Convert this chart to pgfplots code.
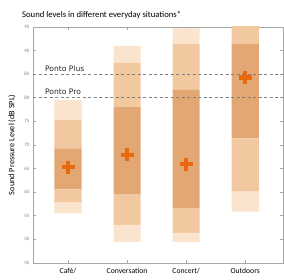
\documentclass[border=0pt]{standalone}
\usepackage{pgfplots}
\pgfplotsset{compat=1.18}
\usepackage{pgfplotstable}
\usepackage{fontspec}
\setmainfont{Carlito}
\newfontfamily\dejavu{DejaVu Sans}
\definecolor{lightb}{HTML}{FBE4CE}
\definecolor{medb}{HTML}{F2C8A0}
\definecolor{darkb}{HTML}{E3A773}
\definecolor{crossc}{HTML}{E8690E}
\definecolor{axg}{HTML}{A6A6A6}
\definecolor{txtg}{HTML}{7F7F7F}
\pgfplotstableread{
x base l1 m1 d m2 l2
0 55.5 2.3 2.8 8.7 6.1 4.1
1 49.5 3.6 6.5 18.4 9.4 3.6
2 49.5 1.9 5.2 25.1 9.7 3.3
3 55.9 4.2 11.3 20.0 4.1 1.5
}\bands
\pgfplotstableread{
x mean
0 65.3
1 67.9
2 65.9
3 84.3
}\means
\begin{document}
\begin{tikzpicture}
\useasboundingbox (0,0) rectangle (284bp,280bp);
\begin{axis}[
  at={(33bp,17bp)}, anchor=south west,
  scale only axis, width=250bp, height=236bp,
  xmin=-0.593, xmax=3.64, ymin=45, ymax=95,
  ybar stacked, bar width=0.46,
  xtick=data, xticklabels={Café/,Conversation,Concert/,\raisebox{-3bp}{Outdoors}},
  ytick={45,50,...,95},
  axis line style={axg, line width=0.8bp},
  tick style={axg, line width=0.6bp},
  major tick length=3bp,
  tick align=inside,
  /pgf/number format/assume math mode=true,
  yticklabel style={font=\fontsize{5}{6}\selectfont, text=txtg},
  xticklabel style={font=\fontsize{7.7}{9}\selectfont, text=black, yshift=-1.5bp},
  clip=true,
]
\addplot[draw=none, fill=none] table[x=x, y=base] {\bands};
\addplot[draw=none, fill=lightb] table[x=x, y=l1] {\bands};
\addplot[draw=none, fill=medb] table[x=x, y=m1] {\bands};
\addplot[draw=none, fill=darkb] table[x=x, y=d] {\bands};
\addplot[draw=none, fill=medb] table[x=x, y=m2] {\bands};
\addplot[draw=none, fill=lightb] table[x=x, y=l2] {\bands};
\end{axis}
\begin{axis}[
  at={(33bp,17bp)}, anchor=south west,
  scale only axis, width=250bp, height=236bp,
  xmin=-0.593, xmax=3.64, ymin=45, ymax=95,
  axis lines=none, ticks=none,
  clip=false,
]
\addplot[gray, dash pattern=on 3bp off 2.5bp, line width=0.6bp] coordinates {(-0.593,85) (3.64,85)};
\addplot[gray, dash pattern=on 3bp off 2.5bp, line width=0.6bp] coordinates {(-0.593,80) (3.64,80)};
\node[anchor=base west, inner sep=0pt, font=\dejavu\fontsize{7.6}{9}\selectfont, text=black!85] at (axis cs:-0.39,85.6) {Ponto Plus};
\node[anchor=base west, inner sep=0pt, font=\dejavu\fontsize{7.6}{9}\selectfont, text=black!85] at (axis cs:-0.39,80.6) {Ponto Pro};
\addplot[only marks, mark=+, mark size=6.5bp, line width=4.2bp, crossc] table[x=x, y=mean] {\means};
\end{axis}
\node[anchor=base west, inner sep=0pt, font=\fontsize{8.7}{10}\selectfont] at (22bp,262.7bp) {Sound levels in different everyday situations*};
\node[rotate=90, inner sep=0pt, font=\fontsize{8.3}{10}\selectfont] at (12bp,135bp) {Sound Pressure Level (dB SPL)};
\end{tikzpicture}
\end{document}
